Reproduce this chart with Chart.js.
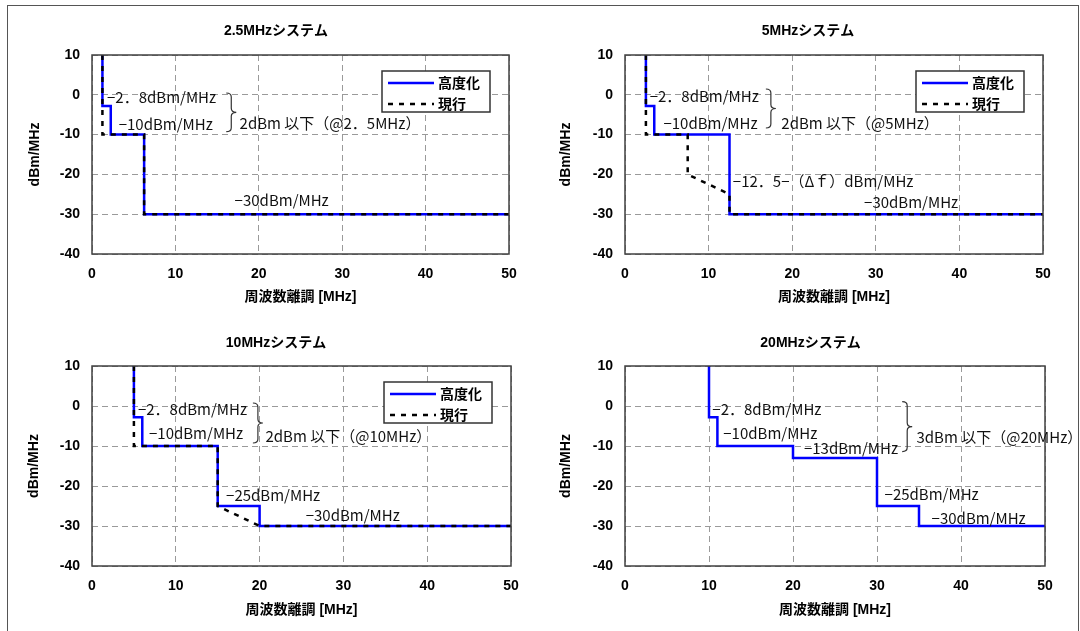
<!DOCTYPE html>
<html>
<head>
<meta charset="utf-8">
<script src="https://cdn.jsdelivr.net/npm/chart.js@4"></script>
<style>
  body { margin: 0; background: #fff; width: 1080px; height: 631px; overflow: hidden; position: relative; }
  #frame { position: absolute; left: 7px; top: 5px; width: 1072px; height: 640px; border: 1.5px solid #555; box-sizing: border-box; }
  canvas { position: absolute; }
</style>
</head>
<body>
<div id="frame"></div>
<canvas id="c1" style="left:0px;top:0px"></canvas>
<canvas id="c2" style="left:540px;top:0px"></canvas>
<canvas id="c3" style="left:0px;top:310px"></canvas>
<canvas id="c4" style="left:540px;top:310px"></canvas>
<script>
// mask break points (MHz offset, dBm/MHz)
const xTicks = [0, 10, 20, 30, 40, 50];
const yTicks = [-40, -30, -20, -10, 0, 10];

const advX1 = [1.25, 1.25, 2.25, 2.25, 6.25, 6.25, 50];
const advY1 = [10, -2.8, -2.8, -10, -10, -30, -30];
const curX1 = [1.25, 1.25, 6.25, 6.25, 50];
const curY1 = [10, -10, -10, -30, -30];

const advX2 = [2.5, 2.5, 3.5, 3.5, 12.5, 12.5, 50];
const advY2 = [10, -2.8, -2.8, -10, -10, -30, -30];
const curX2 = [2.5, 2.5, 7.5, 7.5, 12.5, 12.5, 50];
const curY2 = [10, -10, -10, -20, -25, -30, -30];

const advX3 = [5, 5, 6, 6, 15, 15, 20, 20, 50];
const advY3 = [10, -2.8, -2.8, -10, -10, -25, -25, -30, -30];
const curX3 = [5, 5, 15, 15, 20, 50];
const curY3 = [10, -10, -10, -25, -30, -30];

const advX4 = [10, 10, 11, 11, 20, 20, 30, 30, 35, 35, 50];
const advY4 = [10, -2.8, -2.8, -10, -10, -13, -13, -25, -25, -30, -30];

const titles = ['2.5MHzシステム', '5MHzシステム', '10MHzシステム', '20MHzシステム'];
const seriesNames = ['高度化', '現行'];

// text labels: [text, x, y] in data units
const notes1 = [['−2．8dBm/MHz', 1.8, -0.73], ['−10dBm/MHz', 3.2, -7.34], ['2dBm 以下（@2．5MHz）', 17.7, -7.1], ['−30dBm/MHz', 17.1, -26.4]];
const notes2 = [['−2．8dBm/MHz', 2.95, -0.48], ['−10dBm/MHz', 4.6, -7.16], ['2dBm 以下（@5MHz）', 18.7, -7.16], ['−12．5−（Δｆ）dBm/MHz', 12.9, -21.66], ['−30dBm/MHz', 28.6, -26.9]];
const notes3 = [['−2．8dBm/MHz', 5.48, -0.83], ['−10dBm/MHz', 6.8, -6.83], ['2dBm 以下（@10MHz）', 20.7, -7.5], ['−25dBm/MHz', 16.0, -22.25], ['−30dBm/MHz', 25.5, -27.25]];
const notes4 = [['−2．8dBm/MHz', 10.4, -0.83], ['−10dBm/MHz', 11.7, -6.83], ['−13dBm/MHz', 21.3, -10.6], ['3dBm 以下（@20MHz）', 34.7, -7.7], ['−25dBm/MHz', 30.9, -22.1], ['−30dBm/MHz', 36.5, -28.1]];

// braces: [x, yTop, yBottom]
const brace1 = [16.1, 0.45, -9.27];
const brace2 = [16.85, 1.46, -8.34];
const brace3 = [19.2, 0.75, -9.25];
const brace4 = [33.0, 1.08, -11.4];

Chart.defaults.font.family = '"Liberation Sans", "Noto Sans CJK JP", sans-serif';
Chart.defaults.color = '#000';

function pts(xs, ys) {
  return xs.map((x, i) => ({ x: x, y: ys[i] }));
}

const notesPlugin = {
  id: 'notes',
  afterDatasetsDraw(chart, args, opts) {
    const ctx = chart.ctx, sx = chart.scales.x, sy = chart.scales.y, a = chart.chartArea;
    ctx.save();
    ctx.setLineDash([]);
    ctx.strokeStyle = '#404040';
    ctx.lineWidth = 1.5;
    ctx.strokeRect(a.left, a.top, a.right - a.left, a.bottom - a.top);

    ctx.fillStyle = '#111';
    ctx.font = '15px "Noto Sans CJK JP"';
    ctx.textAlign = 'left';
    ctx.textBaseline = 'middle';
    opts.labels.forEach(l => ctx.fillText(l[0], sx.getPixelForValue(l[1]), sy.getPixelForValue(l[2])));

    // curly brace
    const b = opts.brace;
    const bx = sx.getPixelForValue(b[0]), t = sy.getPixelForValue(b[1]), bt = sy.getPixelForValue(b[2]);
    const m = (t + bt) / 2, w = 10, r = 4;
    ctx.strokeStyle = '#333';
    ctx.lineWidth = 1.2;
    ctx.beginPath();
    ctx.moveTo(bx, t);
    ctx.quadraticCurveTo(bx + w / 2, t, bx + w / 2, t + r);
    ctx.lineTo(bx + w / 2, m - r);
    ctx.quadraticCurveTo(bx + w / 2, m, bx + w, m);
    ctx.quadraticCurveTo(bx + w / 2, m, bx + w / 2, m + r);
    ctx.lineTo(bx + w / 2, bt - r);
    ctx.quadraticCurveTo(bx + w / 2, bt, bx, bt);
    ctx.stroke();

    if (opts.legend) {
      const lw = 108, lh = 41;
      const lx = a.right - 19 - lw, ly = a.top + 16;
      ctx.fillStyle = '#fff';
      ctx.fillRect(lx, ly, lw, lh);
      ctx.strokeStyle = '#333';
      ctx.lineWidth = 1.5;
      ctx.strokeRect(lx, ly, lw, lh);
      chart.data.datasets.forEach((ds, i) => {
        const yy = ly + 12 + i * 21;
        ctx.strokeStyle = ds.borderColor;
        ctx.lineWidth = ds.borderWidth;
        ctx.setLineDash(ds.borderDash || []);
        ctx.beginPath();
        ctx.moveTo(lx + 6, yy);
        ctx.lineTo(lx + 52, yy);
        ctx.stroke();
        ctx.setLineDash([]);
        ctx.fillStyle = '#000';
        ctx.font = 'bold 14px "Noto Sans CJK JP"';
        ctx.fillText(ds.label, lx + 56, yy);
      });
    }
    ctx.restore();
  }
};

function makeChart(id, box, title, adv, cur, labels, brace) {
  const cv = document.getElementById(id);
  cv.width = box.w;
  cv.height = box.h;
  const tickFont = { size: 14, weight: 'bold' };
  const axisFont = { size: 14, weight: 'bold' };
  const grid = { color: '#9a9a9a', lineWidth: 1, drawTicks: false };
  const border = { display: false, dash: [6, 4] };

  const datasets = [{
    label: seriesNames[0], data: adv, borderColor: '#0000ff', borderWidth: 2.5,
    pointRadius: 0, fill: false, order: 2
  }];
  if (cur) {
    datasets.push({
      label: seriesNames[1], data: cur, borderColor: '#000000', borderWidth: 2.5,
      borderDash: [5, 6], pointRadius: 0, fill: false, order: 1
    });
  }

  return new Chart(cv, {
    type: 'line',
    data: { datasets: datasets },
    options: {
      responsive: false,
      animation: false,
      layout: { padding: 0 },
      plugins: {
        legend: { display: false },
        tooltip: { enabled: false },
        title: {
          display: true, text: title, color: '#000',
          font: { size: 14, weight: 'bold' },
          padding: { top: box.titleTop, bottom: box.plotTop - box.titleTop - 16.8 }
        },
        notes: { labels: labels, brace: brace, legend: !!cur }
      },
      scales: {
        x: {
          type: 'linear', min: 0, max: 50,
          afterBuildTicks: s => { s.ticks = xTicks.map(v => ({ value: v })); },
          ticks: { padding: 12, font: tickFont, color: '#000' },
          grid: grid, border: border,
          title: { display: true, text: '周波数離調 [MHz]', font: axisFont, color: '#000', padding: { top: 0, bottom: box.xTitlePad } },
          afterFit: s => { s.height = box.h - box.plotBottom; }
        },
        y: {
          type: 'linear', min: -40, max: 10,
          afterBuildTicks: s => { s.ticks = yTicks.map(v => ({ value: v })); },
          ticks: { padding: 12, font: tickFont, color: '#000' },
          grid: grid, border: border,
          title: { display: true, text: 'dBm/MHz', font: axisFont, color: '#000', padding: { top: box.yTitlePad, bottom: 0 } },
          afterFit: s => { s.width = box.plotLeft; }
        },
        yr: {
          type: 'linear', position: 'right', display: true,
          ticks: { display: false }, grid: { display: false, drawTicks: false }, border: { display: false },
          afterFit: s => { s.width = box.w - box.plotRight; }
        }
      }
    },
    plugins: [notesPlugin]
  });
}

makeChart('c1', { w: 552, h: 310, plotLeft: 92, plotRight: 509, plotTop: 55, plotBottom: 254, titleTop: 23.1, xTitlePad: 4.6, yTitlePad: 26.6 },
  titles[0], pts(advX1, advY1), pts(curX1, curY1), notes1, brace1);
makeChart('c2', { w: 536, h: 310, plotLeft: 85, plotRight: 503, plotTop: 55, plotBottom: 254, titleTop: 23.1, xTitlePad: 4.6, yTitlePad: 17.6 },
  titles[1], pts(advX2, advY2), pts(curX2, curY2), notes2, brace2);
makeChart('c3', { w: 552, h: 321, plotLeft: 92, plotRight: 511, plotTop: 56, plotBottom: 256, titleTop: 24.3, xTitlePad: 12.6, yTitlePad: 26.1 },
  titles[2], pts(advX3, advY3), pts(curX3, curY3), notes3, brace3);
makeChart('c4', { w: 541, h: 321, plotLeft: 85, plotRight: 505, plotTop: 56, plotBottom: 256, titleTop: 24.3, xTitlePad: 12.6, yTitlePad: 17.5 },
  titles[3], pts(advX4, advY4), null, notes4, brace4);
</script>
</body>
</html>
